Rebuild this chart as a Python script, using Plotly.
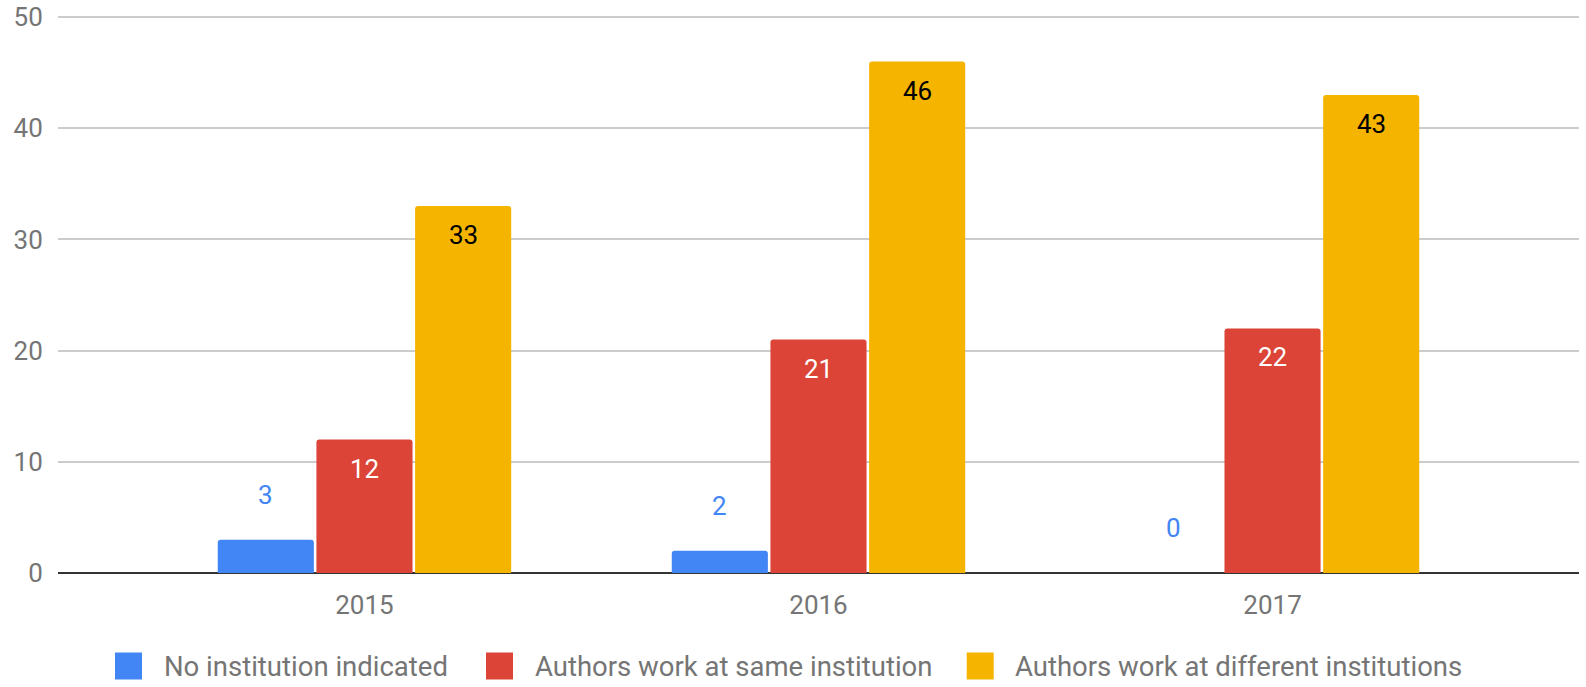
import plotly.graph_objects as go

# ---- data ----
years = ["2015", "2016", "2017"]
series_names = [
    "No institution indicated",
    "Authors work at same institution",
    "Authors work at different institutions",
]
no_institution = [3, 2, 0]
same_institution = [12, 21, 22]
different_institutions = [33, 46, 43]
y_ticks = [0, 10, 20, 30, 40, 50]

# ---- styling / layout ----
colors = ["#4285F4", "#DB4437", "#F4B400"]
label_colors = ["#4285F4", "#FFFFFF", "#000000"]
label_outside = [True, False, False]
FONT = "Roboto, Arial, sans-serif"
GREY = "#757575"

W, H = 1586, 687
ML, MR, MT, MB = 58, 7, 16, 114
plot_w = W - ML - MR
plot_h = H - MT - MB
XR = [-0.675, 2.675]
YR = [0, 50.1]
BARGAP = 0.348
GROUPGAP = 0.026
unit_px = plot_w / (XR[1] - XR[0])
slot_px = (1 - BARGAP) / 3 * unit_px


def px_to_paper_x(px):
    return (px - ML) / plot_w


def px_to_paper_y(py):
    return (H - MB - py) / plot_h


all_series = [no_institution, same_institution, different_institutions]

fig = go.Figure()
for name, vals, col in zip(series_names, all_series, colors):
    fig.add_trace(go.Bar(
        x=years, y=vals, name=name,
        marker=dict(color=col, line=dict(width=0)),
        showlegend=False,
        hoverinfo="x+y+name",
    ))

annotations = []
# value labels
for i, vals in enumerate(all_series):
    off = (i - 1) * slot_px
    for j, v in enumerate(vals):
        annotations.append(dict(
            x=j, y=v, xref="x", yref="y",
            text=str(v), showarrow=False,
            xshift=off, yshift=(45 if label_outside[i] else -29),
            xanchor="center", yanchor="middle",
            font=dict(family=FONT, size=26, color=label_colors[i]),
        ))

# manual legend (large rounded squares like the reference)
shapes = []
sq_left = [115, 486, 966.7]
txt_left = [161.7, 533.3, 1013.3]
sq_size = 27
leg_cy = 666
for i, name in enumerate(series_names):
    shapes.append(dict(
        type="rect", xref="paper", yref="paper",
        x0=px_to_paper_x(sq_left[i]), x1=px_to_paper_x(sq_left[i] + sq_size),
        y0=px_to_paper_y(leg_cy + sq_size / 2), y1=px_to_paper_y(leg_cy - sq_size / 2),
        fillcolor=colors[i], line=dict(width=0),
    ))
    annotations.append(dict(
        x=px_to_paper_x(txt_left[i]), y=px_to_paper_y(leg_cy),
        xref="paper", yref="paper", text=name, showarrow=False,
        xanchor="left", yanchor="middle",
        font=dict(family=FONT, size=27.5, color=GREY),
    ))

fig.update_layout(
    width=W, height=H,
    margin=dict(l=ML, r=MR, t=MT, b=MB, pad=0, autoexpand=False),
    paper_bgcolor="white", plot_bgcolor="white",
    barmode="group", bargap=BARGAP, bargroupgap=GROUPGAP,
    barcornerradius=3,
    font=dict(family=FONT, size=26, color=GREY),
    showlegend=False,
    annotations=annotations,
    shapes=shapes,
    xaxis=dict(
        type="category", range=XR, automargin=False,
        showgrid=False, zeroline=False, showline=False,
        ticks="outside", ticklen=9, tickcolor="rgba(0,0,0,0)",
        tickfont=dict(family=FONT, size=26, color=GREY),
        fixedrange=True,
    ),
    yaxis=dict(
        range=YR, tickvals=y_ticks, automargin=False,
        showgrid=True, gridcolor="#CCCCCC", gridwidth=2,
        zeroline=True, zerolinecolor="#333333", zerolinewidth=2,
        showline=False,
        ticks="outside", ticklen=9, tickcolor="rgba(0,0,0,0)",
        ticklabeloverflow="allow",
        tickfont=dict(family=FONT, size=26, color=GREY),
        fixedrange=True,
    ),
)

fig.write_html(
    "out.html",
    config={"displayModeBar": False},
    post_script="document.body.style.margin='0';document.body.style.overflow='hidden';",
)
